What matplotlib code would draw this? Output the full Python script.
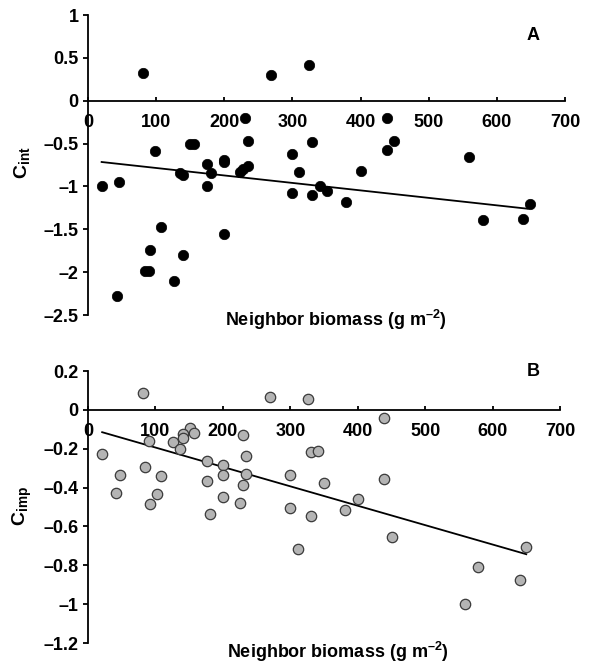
import matplotlib
matplotlib.use("Agg")
import matplotlib.pyplot as plt

plt.rcParams['font.family'] = ['Liberation Sans', 'DejaVu Sans']
plt.rcParams['font.weight'] = 'bold'
plt.rcParams['mathtext.fontset'] = 'custom'
plt.rcParams['mathtext.rm'] = 'Liberation Sans:bold'
plt.rcParams['mathtext.bf'] = 'Liberation Sans:bold'
plt.rcParams['mathtext.it'] = 'Liberation Sans:bold'

# ---- Panel A data (C_int) ----
a_x = [80, 269, 324, 230, 439, 235, 329, 449, 439, 150, 155, 99, 300, 559,
       199, 199, 174, 235, 228, 223, 135, 140, 181, 309, 400, 20, 45, 174,
       300, 329, 340, 350, 379, 649, 579, 639, 107, 199, 91, 140, 83, 90,
       126, 42]
a_y = [0.32, 0.30, 0.42, -0.20, -0.20, -0.465, -0.48, -0.465, -0.57, -0.50,
       -0.50, -0.59, -0.62, -0.66, -0.69, -0.72, -0.735, -0.765, -0.795,
       -0.83, -0.84, -0.87, -0.845, -0.835, -0.82, -1.00, -0.95, -1.00,
       -1.08, -1.10, -1.00, -1.055, -1.18, -1.20, -1.395, -1.375, -1.47,
       -1.55, -1.74, -1.80, -1.99, -1.99, -2.10, -2.275]
a_fit_x = [20, 645]
a_fit_y = [-0.715, -1.26]

# ---- Panel B data (C_imp) ----
b_x = [82, 270, 326, 439, 152, 157, 141, 141, 230, 91, 126, 136, 21, 331,
       341, 235, 176, 200, 85, 47, 108, 200, 235, 300, 176, 439, 230, 350,
       41, 102, 200, 400, 92, 226, 300, 381, 181, 331, 451, 311, 649, 579,
       641, 559]
b_y = [0.086, 0.065, 0.058, -0.041, -0.094, -0.117, -0.125, -0.146, -0.13,
       -0.158, -0.168, -0.199, -0.227, -0.216, -0.211, -0.237, -0.264,
       -0.285, -0.294, -0.336, -0.342, -0.336, -0.328, -0.336, -0.364,
       -0.354, -0.385, -0.379, -0.426, -0.431, -0.451, -0.458, -0.484,
       -0.477, -0.505, -0.515, -0.537, -0.548, -0.654, -0.718, -0.707,
       -0.807, -0.876, -0.997]
b_fit_x = [21, 650]
b_fit_y = [-0.115, -0.743]

x_ticks = [0, 100, 200, 300, 400, 500, 600, 700]
x_ticklabels = ['0', '100', '200', '300', '400', '500', '600', '700']
a_yticks = [1, 0.5, 0, -0.5, -1, -1.5, -2, -2.5]
a_yticklabels = ['1', '0.5', '0', '–0.5', '–1', '–1.5', '–2', '–2.5']
b_yticks = [0.2, 0, -0.2, -0.4, -0.6, -0.8, -1, -1.2]
b_yticklabels = ['0.2', '0', '–0.2', '–0.4', '–0.6', '–0.8', '–1', '–1.2']

W, H = 592, 664
fig = plt.figure(figsize=(W / 100, H / 100), dpi=100)

axA = fig.add_axes([88 / W, 1 - 315 / H, (565 - 88) / W, 300 / H])
axB = fig.add_axes([88 / W, 1 - 643 / H, (560 - 88) / W, 272 / H])

FS = 13


def style(ax, yticks, ylabels, ylim):
    ax.set_xlim(0, 700)
    ax.set_ylim(*ylim)
    ax.spines['top'].set_visible(False)
    ax.spines['right'].set_visible(False)
    ax.spines['bottom'].set_position(('data', 0))
    for s in ('left', 'bottom'):
        ax.spines[s].set_linewidth(1.3)
    ax.set_xticks(x_ticks)
    ax.set_xticklabels(x_ticklabels, fontsize=FS, fontweight='bold')
    ax.set_yticks(yticks)
    ax.set_yticklabels(ylabels, fontsize=FS, fontweight='bold')
    ax.tick_params(axis='x', direction='in', length=3, width=1.3, pad=9.5)
    ax.tick_params(axis='y', direction='out', length=3.6, width=1.3, pad=3)
    ax.set_facecolor('none')


style(axA, a_yticks, a_yticklabels, (-2.5, 1))
style(axB, b_yticks, b_yticklabels, (-1.2, 0.2))

axA.plot(a_fit_x, a_fit_y, color='black', lw=1.3, zorder=2)
axA.scatter(a_x, a_y, s=56, color='black', edgecolors='black',
            linewidths=0.5, zorder=3, clip_on=False)

axB.plot(b_fit_x, b_fit_y, color='black', lw=1.3, zorder=2)
axB.scatter(b_x, b_y, s=56, color='#b4b4b4', edgecolors='#3a3a3a',
            linewidths=0.9, zorder=3, clip_on=False)

axA.text(0.933, 0.93, 'A', transform=axA.transAxes, fontsize=FS,
         fontweight='bold', ha='center', va='center')
axB.text(0.943, 1.0, 'B', transform=axB.transAxes, fontsize=FS,
         fontweight='bold', ha='center', va='center')

xlabel = r'Neighbor biomass (g m$^{\mathbf{–2}}$)'
fig.text(336 / W, 1 - 320 / H, xlabel, fontsize=FS, fontweight='bold',
         ha='center', va='center')
fig.text(338 / W, 1 - 652 / H, xlabel, fontsize=FS, fontweight='bold',
         ha='center', va='center')

fig.text(22 / W, 1 - 163 / H, r'$\mathbf{C_{int}}$', fontsize=14,
         rotation=90, ha='center', va='center')
fig.text(22 / W, 1 - 506 / H, r'$\mathbf{C_{imp}}$', fontsize=14,
         rotation=90, ha='center', va='center')

fig.savefig('out.png', dpi=100)
